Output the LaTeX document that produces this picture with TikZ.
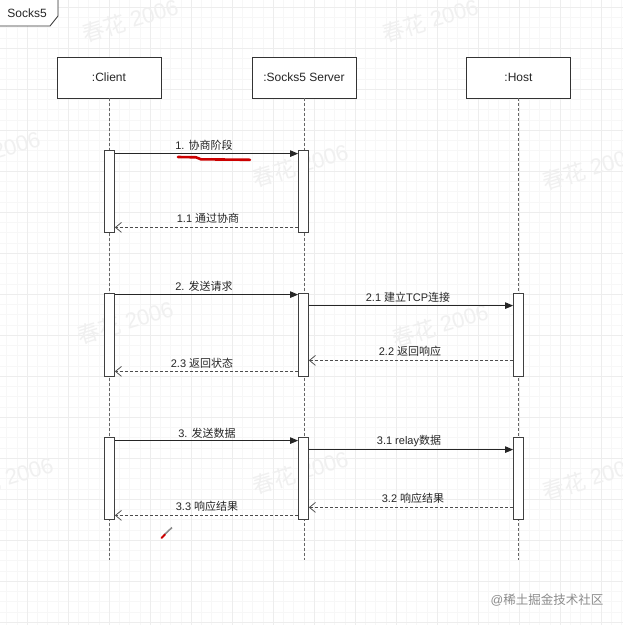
\documentclass[tikz,border=0pt]{standalone}
\usepackage{fontspec}
\setmainfont{Liberation Sans}
\newfontfamily\cjk{Noto Sans CJK SC}
\newcommand\zh[1]{{\cjk #1}}
\usetikzlibrary{arrows.meta}
\begin{document}
\begin{tikzpicture}[x=1pt,y=-1pt,
  lbl/.style={font=\fontsize{11}{13}\selectfont, text=black!85, inner sep=0pt},
  obj/.style={draw=black!80, line width=0.8pt, fill=white, minimum width=104pt, minimum height=41pt, inner sep=0pt, font=\fontsize{12}{14}\selectfont, text=black!85},
  bar/.style={draw=black!75, line width=0.8pt, fill=white, minimum width=10pt, inner sep=0pt},
  life/.style={draw=black!60, line width=0.7pt, dash pattern=on 2.5pt off 2.5pt},
  msg/.style={draw=black!85, line width=0.9pt, -{Triangle[length=8pt,width=6.5pt]}},
  ret/.style={draw=black!70, line width=0.75pt, dash pattern=on 3pt off 2pt, -{Straight Barb[length=6pt,width=10pt]}},
  wm/.style={text=black!6, font=\fontsize{22}{24}\selectfont, rotate=17, inner sep=0pt},
  gminor/.style={draw=black!3, line width=0.5pt},
  gmajor/.style={draw=black!7, line width=0.8pt}]
% background and grid
\fill[white] (0,0) rectangle (623,625);
\useasboundingbox (0,0) rectangle (623,625);
\foreach \i in {0,...,61} {
  \draw[gminor] ({6.5+\i*10.25},0) -- ({6.5+\i*10.25},625);
  \draw[gminor] (0,{7+\i*10.25}) -- (623,{7+\i*10.25});
}
\foreach \i in {0,...,15} {
  \draw[gmajor] ({27+\i*41},0) -- ({27+\i*41},625);
  \draw[gmajor] (0,{7+\i*41}) -- (623,{7+\i*41});
}
% watermarks
\node[wm] (w1) at (130,20) {\zh{春花} 2006};
\node[wm] (w2) at (430,20) {\zh{春花} 2006};
\node[wm] (w3) at (-8,152) {\zh{春花} 2006};
\node[wm] (w4) at (300,165) {\zh{春花} 2006};
\node[wm] (w5) at (590,168) {\zh{春花} 2006};
\node[wm] (w6) at (125,322) {\zh{春花} 2006};
\node[wm] (w7) at (440,325) {\zh{春花} 2006};
\node[wm] (w8) at (5,478) {\zh{春花} 2006};
\node[wm] (w9) at (300,472) {\zh{春花} 2006};
\node[wm] (w10) at (590,478) {\zh{春花} 2006};
% frame label
\draw[draw=black!80, line width=0.8pt, fill=white] (-1,-1) -- (58,-1) -- (58,16) -- (50,26) -- (-1,26);
\node[font=\fontsize{12}{14}\selectfont, text=black!85] (title) at (27,13) {Socks5};
% objects
\node[obj] (client) at (109,77.5) {:Client};
\node[obj] (server) at (304,77.5) {:Socks5 Server};
\node[obj] (host) at (518.5,77.5) {:Host};
\coordinate (cend) at (109,560);
\coordinate (send) at (304,560);
\coordinate (hend) at (518.5,560);
\draw[life] (client.south) -- (cend);
\draw[life] (server.south) -- (send);
\draw[life] (host.south) -- (hend);
% activation bars
\node[bar, minimum height=82pt] (cb1) at (109.5,191) {};
\node[bar, minimum height=82pt] (sb1) at (303.5,191) {};
\node[bar, minimum height=83pt] (cb2) at (109.5,334.5) {};
\node[bar, minimum height=83pt] (sb2) at (303.5,334.5) {};
\node[bar, minimum height=83pt] (hb2) at (518.5,334.5) {};
\node[bar, minimum height=82pt] (cb3) at (109.5,478) {};
\node[bar, minimum height=82pt] (sb3) at (303.5,478) {};
\node[bar, minimum height=82pt] (hb3) at (518.5,478) {};
% messages
\draw[msg] ([yshift=-4pt]cb1.north east) -- ([yshift=-4pt]sb1.north west);
\draw[ret] ([yshift=5pt]sb1.south west) -- ([yshift=5pt]cb1.south east);
\draw[msg] ([yshift=-2pt]cb2.north east) -- ([yshift=-2pt]sb2.north west);
\draw[msg] ([yshift=-13pt]sb2.north east) -- ([yshift=-13pt]hb2.north west);
\draw[ret] ([yshift=16pt]hb2.south west) -- ([yshift=16pt]sb2.south east);
\draw[ret] ([yshift=5pt]sb2.south west) -- ([yshift=5pt]cb2.south east);
\draw[msg] ([yshift=-4pt]cb3.north east) -- ([yshift=-4pt]sb3.north west);
\draw[msg] ([yshift=-13pt]sb3.north east) -- ([yshift=-13pt]hb3.north west);
\draw[ret] ([yshift=12pt]hb3.south west) -- ([yshift=12pt]sb3.south east);
\draw[ret] ([yshift=4pt]sb3.south west) -- ([yshift=4pt]cb3.south east);
% labels
\node[lbl] (l1) at (204,145) {1. \zh{协商阶段}};
\node[lbl] (l11) at (208,218) {1.1 \zh{通过协商}};
\node[lbl] (l2) at (204,286) {2. \zh{发送请求}};
\node[lbl] (l21) at (408,297) {2.1 \zh{建立}TCP\zh{连接}};
\node[lbl] (l22) at (410,351) {2.2 \zh{返回响应}};
\node[lbl] (l23) at (202,363) {2.3 \zh{返回状态}};
\node[lbl] (l3) at (207,433) {3. \zh{发送数据}};
\node[lbl] (l31) at (409,441) {3.1 relay\zh{数据}};
\node[lbl] (l32) at (413,498) {3.2 \zh{响应结果}};
\node[lbl] (l33) at (207,506) {3.3 \zh{响应结果}};
% red underline and pencil mark
\draw[red!80!black, line width=2.6pt, line cap=round] (178,157) -- (196,157.3) -- (201,159.3) -- (250,159.8);
\draw[black!45, line width=1.6pt] (164,535) -- (172,527.5);
\draw[red!80!black, line width=1.8pt, line cap=round] (161.5,538) -- (165,534.5);
% site watermark
\node[text=black!45, font=\fontsize{12.5}{14}\selectfont, inner sep=0pt] (site) at (547,600) {@\zh{稀土掘金技术社区}};
\end{tikzpicture}
\end{document}
